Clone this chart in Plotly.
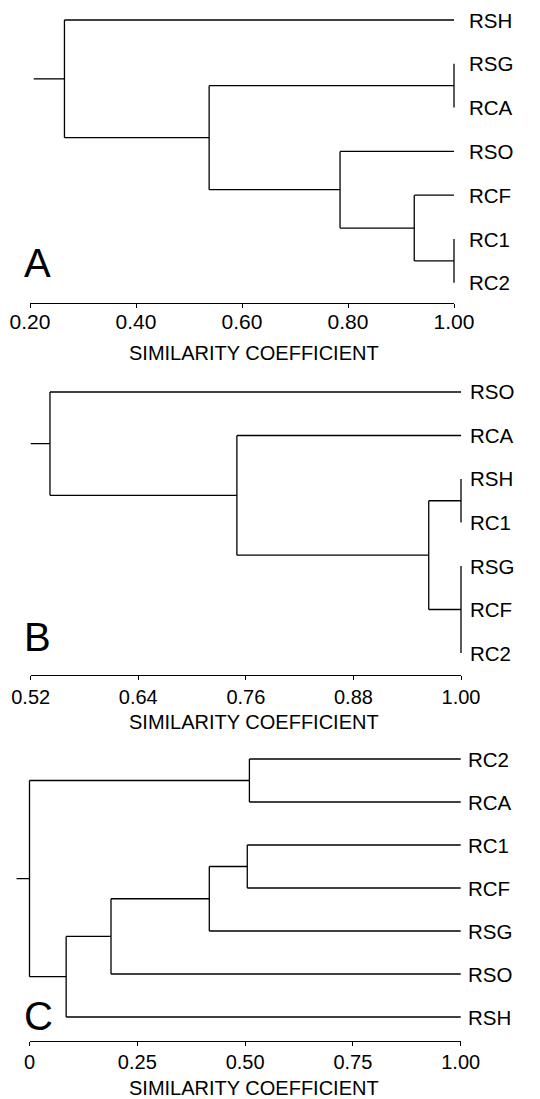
import plotly.graph_objects as go

# ---------------- data ----------------
leaves_A = ["RSH", "RSG", "RCA", "RSO", "RCF", "RC1", "RC2"]
merges_A = [  # (node, children, similarity)
    ("a1", ["RSG", "RCA"], 1.00),
    ("a2", ["RC1", "RC2"], 1.00),
    ("a3", ["RCF", "a2"], 0.925),
    ("a4", ["RSO", "a3"], 0.785),
    ("a5", ["a1", "a4"], 0.538),
    ("a6", ["RSH", "a5"], 0.265),
]
root_stub_A = 0.207
ticks_A = [0.20, 0.40, 0.60, 0.80, 1.00]
ticktext_A = ["0.20", "0.40", "0.60", "0.80", "1.00"]
range_A = [0.20, 1.00]

leaves_B = ["RSO", "RCA", "RSH", "RC1", "RSG", "RCF", "RC2"]
merges_B = [
    ("b1", ["RSH", "RC1"], 1.00),
    ("b2", ["RSG", "RCF", "RC2"], 1.00),
    ("b3", ["b1", "b2"], 0.964),
    ("b4", ["RCA", "b3"], 0.750),
    ("b5", ["RSO", "b4"], 0.5415),
]
root_stub_B = 0.52
ticks_B = [0.52, 0.64, 0.76, 0.88, 1.00]
ticktext_B = ["0.52", "0.64", "0.76", "0.88", "1.00"]
range_B = [0.52, 1.00]

leaves_C = ["RC2", "RCA", "RC1", "RCF", "RSG", "RSO", "RSH"]
merges_C = [
    ("c1", ["RC2", "RCA"], 0.510),
    ("c2", ["RC1", "RCF"], 0.505),
    ("c3", ["c2", "RSG"], 0.417),
    ("c4", ["c3", "RSO"], 0.189),
    ("c5", ["c4", "RSH"], 0.085),
    ("c6", ["c1", "c5"], 0.000),
]
root_stub_C = -0.030
ticks_C = [0.00, 0.25, 0.50, 0.75, 1.00]
ticktext_C = ["0", "0.25", "0.50", "0.75", "1.00"]
range_C = [0.00, 1.00]

panel_letters = ["A", "B", "C"]
axis_title = "SIMILARITY COEFFICIENT"

# ---------------- layout constants (pixels, as seen in the page) ----------------
W, H = 540, 1099
OFF = 8  # page body margin offset compensation
FONT = "Liberation Sans, Arial, Helvetica, sans-serif"
LINE = dict(color="#000000", width=1.3)
PAD_L, PAD_R = 20, 12  # extra room for the hidden drawing axes (no clipping at edges)

panels = [
    dict(leaves=leaves_A, merges=merges_A, stub=root_stub_A, ticks=ticks_A, ticktext=ticktext_A,
         xr=range_A, x0=30, x1=454, top=8, axis=303, leaf0=20, step=43.8,
         labshift=13, letter_xy=(37, 263), title_y=353, tsize=21, tstand=-4),
    dict(leaves=leaves_B, merges=merges_B, stub=root_stub_B, ticks=ticks_B, ticktext=ticktext_B,
         xr=range_B, x0=30.7, x1=461, top=365, axis=675, leaf0=392, step=43.5,
         labshift=7, letter_xy=(37, 637), title_y=722, tsize=20, tstand=0),
    dict(leaves=leaves_C, merges=merges_C, stub=root_stub_C, ticks=ticks_C, ticktext=ticktext_C,
         xr=range_C, x0=29.5, x1=460.7, top=735, axis=1041, leaf0=759, step=43,
         labshift=5, letter_xy=(38, 1016), title_y=1088, tsize=20, tstand=-1),
]


def dendro_segments(leaves, merges, stub, leaf_x=1.0):
    pos = {name: (leaf_x, i) for i, name in enumerate(leaves)}
    xs, ys = [], []
    for node, children, h in merges:
        cy = [pos[c][1] for c in children]
        xs += [h, h, None]
        ys += [min(cy), max(cy), None]
        for c in children:
            cx, cyy = pos[c]
            xs += [h, cx, None]
            ys += [cyy, cyy, None]
        pos[node] = (h, sum(cy) / len(cy))
    rx, ry = pos[merges[-1][0]]
    xs += [stub, rx, None]
    ys += [ry, ry, None]
    return xs, ys


def px_x(v):
    return min(max((v - OFF) / W, 0.0), 1.0)


def px_y(v):
    return min(max(1 - (v - OFF) / H, 0.0), 1.0)


fig = go.Figure()
annotations = []
layout_axes = {}
n = len(panels)

for k, p in enumerate(panels, start=1):
    xa = "x" if k == 1 else f"x{k}"          # visible scale axis
    xd = f"x{k + n}"                          # hidden drawing axis (same scale, wider)
    ya = "y" if k == 1 else f"y{k}"

    scale = (p["x1"] - p["x0"]) / (p["xr"][1] - p["xr"][0])
    padl = min(PAD_L, p["x0"] - OFF - 0.5)
    d_range = [p["xr"][0] - padl / scale, p["xr"][1] + PAD_R / scale]
    d_dom = [px_x(p["x0"] - padl), px_x(p["x1"] + PAD_R)]

    xs, ys = dendro_segments(p["leaves"], p["merges"], p["stub"])
    fig.add_trace(go.Scatter(x=xs, y=ys, mode="lines", line=LINE, xaxis=xd, yaxis=ya,
                             cliponaxis=False, hoverinfo="skip", showlegend=False))
    # empty trace so the visible axis subplot exists
    fig.add_trace(go.Scatter(x=[], y=[], mode="lines", xaxis=xa, yaxis=ya,
                             hoverinfo="skip", showlegend=False))

    ydom = [px_y(p["axis"]), px_y(p["top"])]
    yr = [(p["axis"] - p["leaf0"]) / p["step"], (p["top"] - p["leaf0"]) / p["step"]]

    layout_axes["xaxis" if k == 1 else f"xaxis{k}"] = dict(
        domain=[px_x(p["x0"]), px_x(p["x1"])], range=p["xr"], anchor=ya,
        showgrid=False, zeroline=False, automargin=False,
        showline=True, linecolor="#000000", linewidth=1.3,
        ticks="outside", ticklen=4, tickwidth=1.2, tickcolor="#000000",
        tickvals=p["ticks"], ticktext=p["ticktext"], ticklabelstandoff=p["tstand"],
        tickfont=dict(family=FONT, size=p["tsize"], color="#000000"),
    )
    layout_axes[f"xaxis{k + n}"] = dict(
        domain=d_dom, range=d_range, anchor=ya, visible=False,
        showgrid=False, zeroline=False, automargin=False,
    )
    layout_axes["yaxis" if k == 1 else f"yaxis{k}"] = dict(
        domain=ydom, range=yr, anchor=xa, visible=False, showgrid=False,
        zeroline=False, automargin=False,
    )

    for i, name in enumerate(p["leaves"]):
        annotations.append(dict(
            x=1.0, y=i, xref=xa, yref=ya, text=name, showarrow=False,
            xanchor="left", yanchor="middle", xshift=p["labshift"],
            font=dict(family=FONT, size=20.5, color="#000000"),
        ))

    lx, ly = p["letter_xy"]
    annotations.append(dict(
        x=px_x(lx), y=px_y(ly), xref="paper", yref="paper", text=panel_letters[k - 1],
        showarrow=False, xanchor="center", yanchor="middle",
        font=dict(family=FONT, size=40, color="#000000"),
    ))
    annotations.append(dict(
        x=px_x(254), y=px_y(p["title_y"]), xref="paper", yref="paper", text=axis_title,
        showarrow=False, xanchor="center", yanchor="middle",
        font=dict(family=FONT, size=20, color="#000000"),
    ))

fig.update_layout(
    template="none",
    width=W, height=H,
    margin=dict(l=0, r=0, t=0, b=0, pad=0),
    paper_bgcolor="#ffffff", plot_bgcolor="rgba(0,0,0,0)",
    showlegend=False,
    annotations=annotations,
    **layout_axes,
)

fig.write_html("out.html")
